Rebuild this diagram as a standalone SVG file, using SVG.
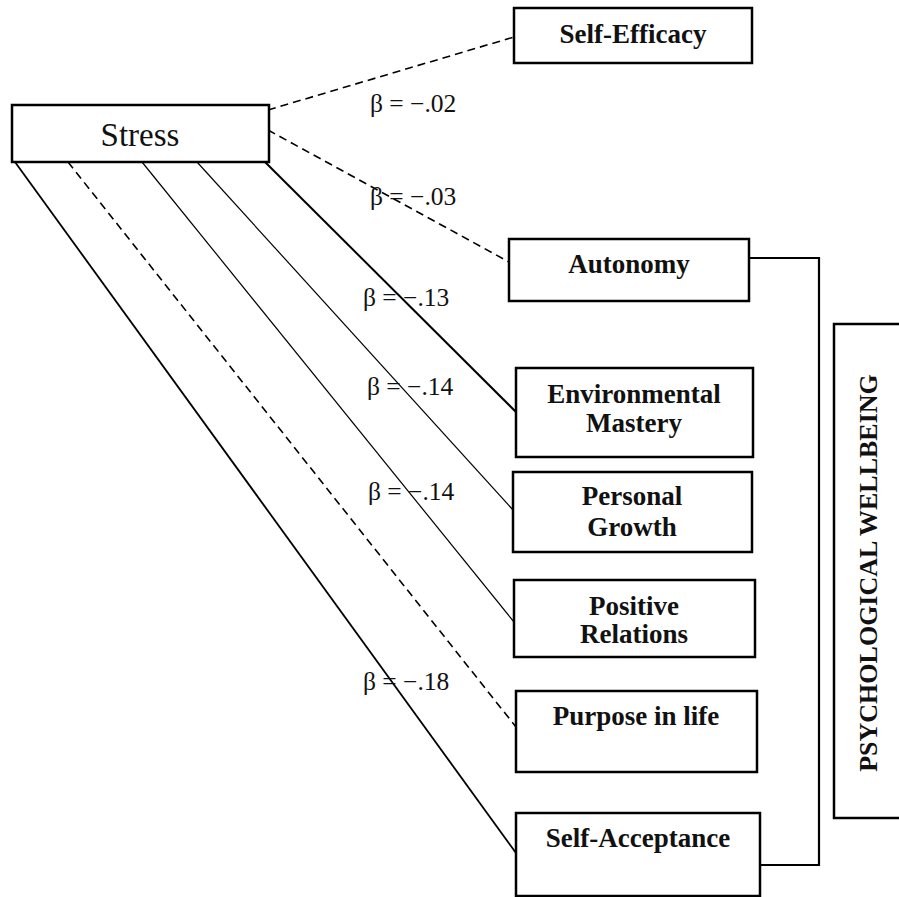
<svg xmlns="http://www.w3.org/2000/svg" width="899" height="897" viewBox="0 0 899 897">
<style>
.box{fill:#fff;stroke:#000;stroke-width:2.5}
.lbl{font-family:"Liberation Serif","Times New Roman",serif;font-weight:bold;font-size:27px;text-anchor:middle;fill:#111}
.beta{font-family:"Liberation Serif","Times New Roman",serif;font-size:25.5px;fill:#111}
.dash{stroke:#000;stroke-width:1.6;stroke-dasharray:8 5;fill:none}
.solid{stroke:#000;fill:none}
</style>
<rect width="899" height="897" fill="#fff"/>
<g id="connectors">
<line class="dash" x1="268" y1="110" x2="514" y2="37"/>
<line class="dash" x1="268" y1="130" x2="509" y2="262"/>
<line class="solid" stroke-width="2" x1="265" y1="162" x2="516" y2="412"/>
<line class="solid" stroke-width="1.2" x1="197" y1="162" x2="513" y2="510"/>
<line class="solid" stroke-width="1.2" x1="142" y1="162" x2="514" y2="622"/>
<line class="dash" x1="68" y1="162" x2="516" y2="727"/>
<line class="solid" stroke-width="1.8" x1="15" y1="162" x2="516" y2="853"/>
<polyline class="solid" stroke-width="2.2" points="749,258 819,258 819,865 760,865"/>
</g>
<g id="stress"><rect class="box" x="12" y="105" width="257" height="57"/><text x="140" y="146" font-family="Liberation Serif, Times New Roman, serif" font-size="33" text-anchor="middle" fill="#111">Stress</text></g>
<g id="self-efficacy"><rect class="box" x="514" y="8" width="238" height="55"/><text class="lbl" x="633" y="43">Self-Efficacy</text></g>
<g id="autonomy"><rect class="box" x="509" y="239" width="240" height="62"/><text class="lbl" x="629" y="273">Autonomy</text></g>
<g id="environmental-mastery"><rect class="box" x="516" y="368" width="237" height="89"/><text class="lbl" x="634" y="403">Environmental</text><text class="lbl" x="634" y="432">Mastery</text></g>
<g id="personal-growth"><rect class="box" x="513" y="472" width="239" height="80"/><text class="lbl" x="632" y="505">Personal</text><text class="lbl" x="632" y="536">Growth</text></g>
<g id="positive-relations"><rect class="box" x="514" y="580" width="241" height="77"/><text class="lbl" x="634" y="615">Positive</text><text class="lbl" x="634" y="643">Relations</text></g>
<g id="purpose-in-life"><rect class="box" x="516" y="691" width="241" height="81"/><text class="lbl" x="636" y="725">Purpose in life</text></g>
<g id="self-acceptance"><rect class="box" x="516" y="813" width="244" height="83"/><text class="lbl" x="638" y="847">Self-Acceptance</text></g>
<g id="psychological-wellbeing"><rect class="box" x="834" y="324" width="80" height="494"/><text class="lbl" style="font-size:26px" transform="translate(877,573) rotate(-90)" x="0" y="0">PSYCHOLOGICAL WELLBEING</text></g>
<g id="labels">
<text class="beta" x="370" y="112">β = −.02</text>
<text class="beta" x="370" y="205">β = −.03</text>
<text class="beta" x="363" y="306">β = −.13</text>
<text class="beta" x="367" y="395">β = −.14</text>
<text class="beta" x="368" y="500">β = −.14</text>
<text class="beta" x="363" y="690">β = −.18</text>
</g>
</svg>
